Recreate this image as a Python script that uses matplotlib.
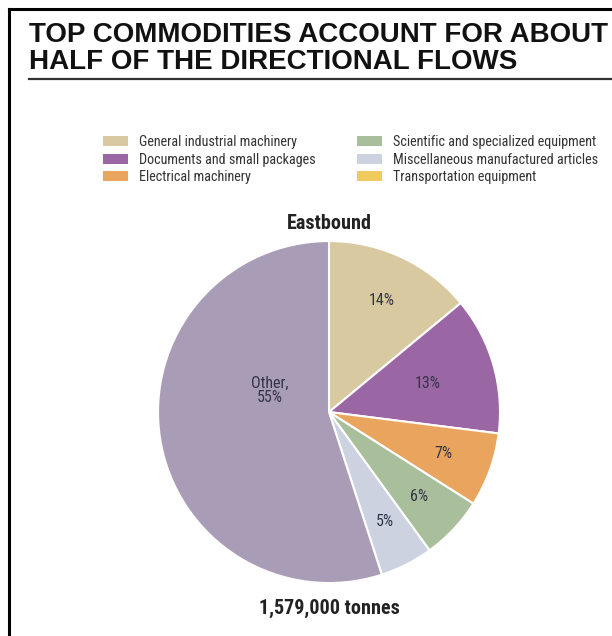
import matplotlib
matplotlib.use("Agg")
import matplotlib.pyplot as plt
from matplotlib import font_manager
from matplotlib.patches import Patch
from matplotlib.lines import Line2D
import numpy as np

# ── data ──────────────────────────────────────────────────────
commodities = ["General industrial machinery", "Documents and small packages",
               "Electrical machinery", "Scientific and specialized equipment",
               "Miscellaneous manufactured articles", "Transportation equipment"]
shares = [14, 13, 7, 6, 5, 0]          # % of eastbound tonnes
other_share = 55
direction = "Eastbound"
total_label = "1,579,000 tonnes"

colors = ["#D9C9A0", "#9B66A4", "#E9A45E", "#A9BF9B", "#CCD2DF", "#EECB5C"]
other_color = "#A89CB6"


# ── fonts: narrow face for labels, a bold narrow face for headings ──
def weight_num(w):
    if isinstance(w, str):
        return font_manager.weight_dict.get(w, 400)
    return w

entries = font_manager.fontManager.ttflist
narrow_names = sorted({f.name for f in entries if "Narrow" in f.name or "Condensed" in f.name})
preferred = ["Liberation Sans Narrow", "Roboto Condensed", "Archivo Narrow", "PT Sans Narrow"]
narrow_names = [n for n in preferred if n in narrow_names] + \
               [n for n in narrow_names if n not in preferred]

narrow = dict(family="DejaVu Sans", stretch="condensed")
narrow_bold = dict(family="DejaVu Sans", stretch="condensed", fontweight="bold")
if narrow_names:
    narrow = dict(family=narrow_names[0])
for n in narrow_names:
    if any(f.name == n and weight_num(f.weight) >= 600 for f in entries):
        narrow_bold = dict(family=n, fontweight="bold")
        break

fig = plt.figure(figsize=(6.12, 6.36), dpi=100)
fig.patch.set_facecolor("white")

# frame lines (left + top)
fig.add_artist(Line2D([9/612, 9/612], [0, 1 - 9/636], color="black", lw=2.2))
fig.add_artist(Line2D([9/612, 1], [1 - 9/636, 1 - 9/636], color="black", lw=2.2))

# title + rule
fig.text(29/612, 1 - 22/636, "TOP COMMODITIES ACCOUNT FOR ABOUT\nHALF OF THE DIRECTIONAL FLOWS",
         family="Liberation Sans", fontweight="bold", fontsize=20, va="top", ha="left",
         linespacing=1.03, color="#111111")
fig.add_artist(Line2D([29/612, 1], [1 - 78.5/636, 1 - 78.5/636], color="#333333", lw=1.6))

# ── pie ───────────────────────────────────────────────────────
vals, cols, labs = [], [], []
for s, c in zip(shares, colors):
    if s > 0:
        vals.append(s); cols.append(c); labs.append(f"{s}%")
vals.append(other_share); cols.append(other_color); labs.append(f"Other,\n{other_share}%")

ax = fig.add_axes([0.2582, 0.0833, 0.5588, 0.5377])
wedges, _ = ax.pie(vals, colors=cols, startangle=90, counterclock=False,
                   wedgeprops=dict(edgecolor="white", linewidth=1.5))
ax.set_xlim(-1.0, 1.0); ax.set_ylim(-1.0, 1.0)
ax.set_aspect("equal")

label_r = [0.72, 0.6, 0.71, 0.72, 0.72, 0.37]
for w, lab, r in zip(wedges, labs, label_r):
    mid = np.deg2rad((w.theta1 + w.theta2) / 2)
    if lab.startswith("Other"):
        mid = np.deg2rad(160)
    ax.text(r * np.cos(mid), r * np.sin(mid), lab, ha="center", va="center",
            fontsize=11.5, color="#33334a", linespacing=1.0, **narrow)

fig.text(329/612, 1 - 224/636, direction, ha="center", va="center",
         fontsize=14.5, color="#222222", **narrow_bold)
fig.text(329/612, 1 - 608/636, total_label, ha="center", va="center",
         fontsize=14.5, color="#222222", **narrow_bold)

# ── legend (two columns of three) ─────────────────────────────
handles = [Patch(facecolor=c, edgecolor="none") for c in colors]
fs = 10.2
leg_kw = dict(loc="upper left", frameon=False, prop=dict(size=fs, **narrow),
              handlelength=25 / (fs * 100 / 72), handleheight=10 / (fs * 100 / 72),
              labelspacing=0.25, handletextpad=11 / (fs * 100 / 72),
              borderpad=0, borderaxespad=0)
for i, x0 in enumerate([103, 357]):
    leg = fig.legend(handles[3*i:3*i+3], commodities[3*i:3*i+3],
                     bbox_to_anchor=(x0/612, 1 - 135/636), **leg_kw)
    for t in leg.get_texts():
        t.set_color("#333333")

plt.savefig("out.png", dpi=100)
